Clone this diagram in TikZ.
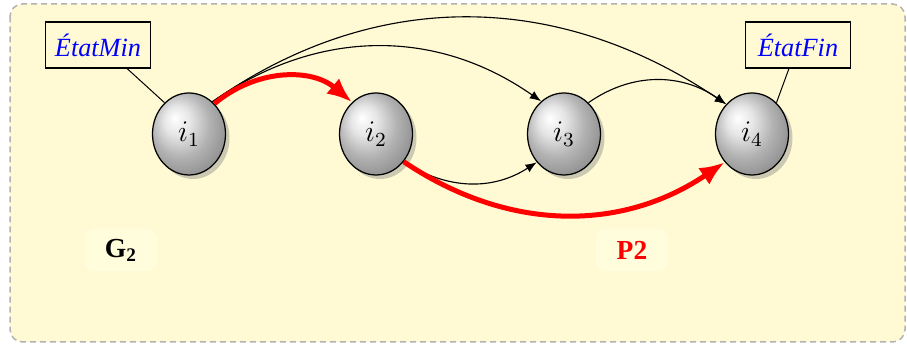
\documentclass[tikz,border=0pt]{standalone}
\usepackage{fontspec}
\setmainfont{Liberation Serif}
\usetikzlibrary{shapes.geometric,shadows,arrows.meta,shadings}
\definecolor{bgyellow}{RGB}{255,250,212}
\definecolor{lblyellow}{RGB}{255,253,220}
\pgfdeclareradialshading{refball}{\pgfpoint{-10bp}{10bp}}{color(0bp)=(white); color(9bp)=(gray!20); color(20bp)=(gray!60); color(30bp)=(gray!85); color(42bp)=(gray); color(50bp)=(gray!75!black)}
\begin{document}
\begin{tikzpicture}[x=0.4pt,y=-0.4pt,
  ball/.style={ellipse,draw=black,line width=0.5pt,minimum width=29.2pt,minimum height=32.8pt,inner sep=0pt,
    shading=refball,drop shadow={shadow xshift=1.6pt,shadow yshift=-1.6pt,opacity=0.4},font=\large},
  tagbox/.style={draw=black,fill=bgyellow,line width=0.45pt,minimum width=42pt,minimum height=18.4pt,inner sep=1pt,font=\fontsize{10.5}{12}\selectfont\itshape,text=blue},
  thinarrow/.style={-{Latex[length=4.5pt,width=3.5pt]},line width=0.45pt},
  redarrow/.style={-{Latex[length=10pt,width=8pt]},line width=2pt,red},
  tagline/.style={line width=0.4pt},
  lbl/.style={fill=lblyellow,rounded corners=4pt,minimum width=29pt,minimum height=17pt,font=\fontsize{11}{13}\selectfont\bfseries}]
\useasboundingbox (0,0) rectangle (907,345);
\draw[fill=bgyellow,draw=gray!60,dash pattern=on 2.4pt off 1.6pt,line width=0.6pt,rounded corners=5pt] (10,4) rectangle (905,342);
\node[ball] (i1) at (189,134) {$i_1$};
\node[ball] (i2) at (376,134) {$i_2$};
\node[ball] (i3) at (564,134) {$i_3$};
\node[ball] (i4) at (752,134) {$i_4$};
\node[tagbox] (mn) at (98,45) {ÉtatMin};
\node[tagbox] (fn) at (798,45) {ÉtatFin};
\draw[tagline] (mn.-39) -- (i1.128);
\draw[tagline] (fn.-111) -- (i4.52);
\draw[thinarrow] (i1.54) to[out=35,in=146] (i4.131);
\draw[thinarrow] (i1.54) to[out=35,in=145] (i3.125);
\draw[thinarrow] (i3.52) to[out=35,in=145] (i4.131);
\draw[thinarrow] (i2.-45) to[out=-33,in=-147] (i3.-134);
\draw[redarrow] (i1.50) to[out=40,in=140] (i2.127);
\draw[redarrow] (i2.-45) to[out=-34,in=-146] (i4.-134);
\node[lbl] (g) at (121,250) {G$_\mathbf{2}$};
\node[lbl,text=red] (p) at (632,250) {P2};
\end{tikzpicture}
\end{document}
